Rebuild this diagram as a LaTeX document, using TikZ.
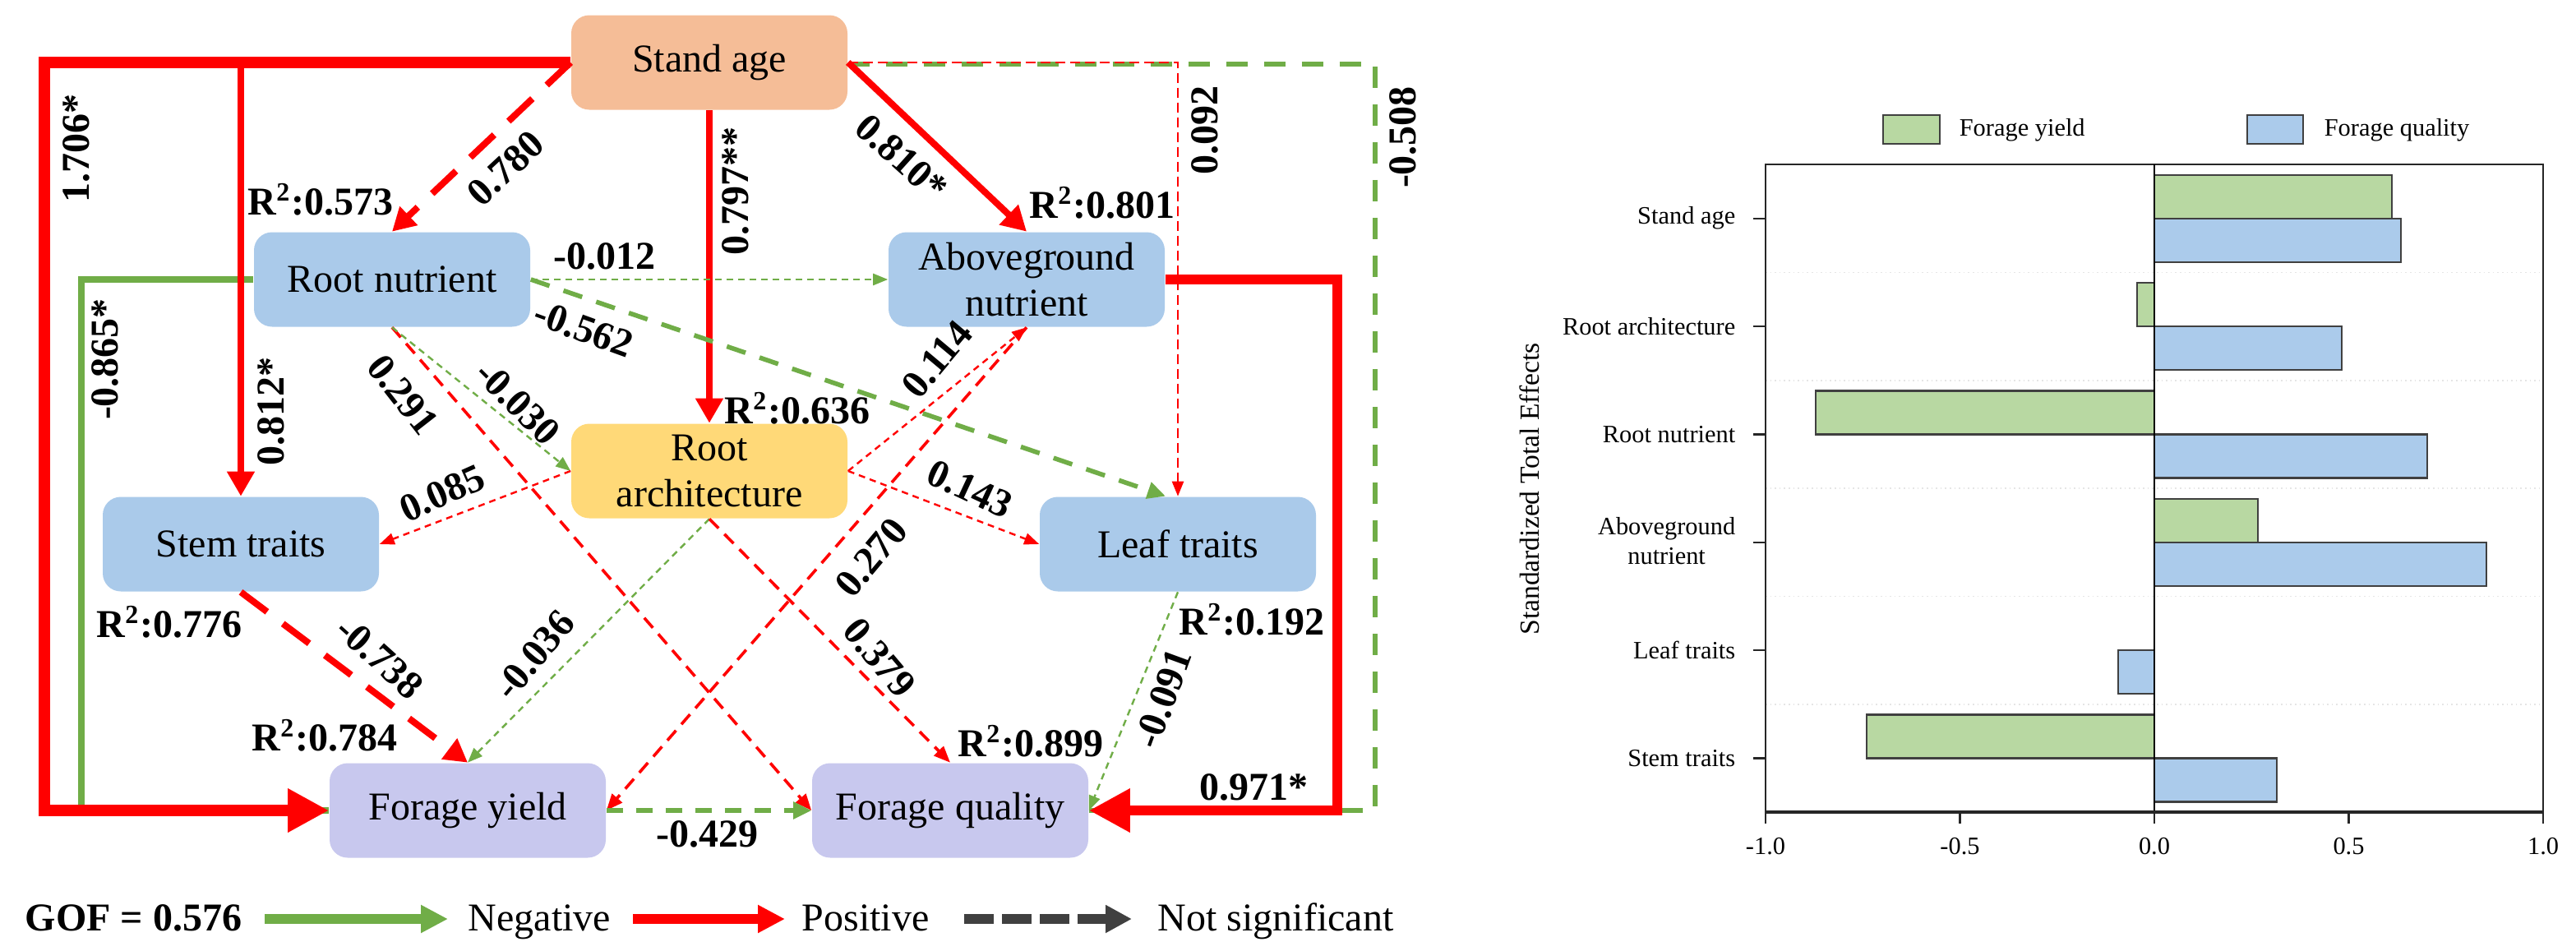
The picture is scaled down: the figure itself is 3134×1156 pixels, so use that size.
\documentclass[tikz,border=0pt]{standalone}
\usepackage{fontspec}
\setmainfont{Liberation Serif}
\usetikzlibrary{arrows.meta,calc}
\definecolor{cpos}{HTML}{FF0000}
\definecolor{cneg}{HTML}{70AD47}
\definecolor{cns}{HTML}{404040}
\definecolor{cSA}{HTML}{F5BD97}
\definecolor{cBL}{HTML}{AACAEA}
\definecolor{cRA}{HTML}{FFD978}
\definecolor{cFO}{HTML}{C8C8EE}
\definecolor{barG}{HTML}{B8D8A2}
\definecolor{barB}{HTML}{ABCBEB}
\begin{document}
\begin{tikzpicture}[x=0.25pt,y=-0.25pt,
  box/.style={rounded corners=5.5pt, minimum width=84pt, minimum height=28.75pt, inner sep=0pt, align=center, font=\fontsize{12}{14}\selectfont},
  lab/.style={font=\fontsize{12}{14}\selectfont\bfseries, inner sep=0pt},
  thickline/.style={line width=3.5pt, line join=miter, -{Triangle[length=12.5pt,width=12.5pt]}},
  medline/.style={line width=2pt, line join=miter, -{Triangle[length=7.5pt,width=8pt]}},
  bigdash/.style={line width=2pt, dash pattern=on 10pt off 6pt, -{Triangle[length=7pt,width=7.5pt]}},
  middash/.style={line width=1.4pt, dash pattern=on 6pt off 4.5pt, -{Triangle[length=5.5pt,width=5pt]}},
  smalldash/.style={line width=0.9pt, dash pattern=on 4pt off 2.5pt, -{Triangle[length=5pt,width=4pt]}},
  dotline/.style={line width=0.6pt, dash pattern=on 2pt off 1.5pt, -{Triangle[length=4.5pt,width=3.5pt]}},
  catlab/.style={font=\fontsize{7.6}{9}\selectfont, inner sep=0pt},
  bar/.style={draw=cns, line width=0.6pt}
]
\useasboundingbox (0,0) rectangle (3134,1156);
\fill[white] (0,0) rectangle (3134,1156);

% ---------------- nodes ----------------
\node[box, fill=cSA] (sa) at (863,76) {Stand age};
\node[box, fill=cBL] (rn) at (477,340) {Root nutrient};
\node[box, fill=cBL] (an) at (1249,340) {Aboveground\\nutrient};
\node[box, fill=cRA] (ra) at (863,573) {Root\\architecture};
\node[box, fill=cBL] (st) at (293,662) {Stem traits};
\node[box, fill=cBL] (lt) at (1433,662) {Leaf traits};
\node[box, fill=cFO] (fy) at (569,986) {Forage yield};
\node[box, fill=cFO] (fq) at (1156,986) {Forage quality};

\coordinate (cL) at (54,986);
\coordinate (cG) at (99,986);
\coordinate (cR) at (1627,986);
\coordinate (cD) at (1673,986);
\coordinate (cDt) at (1673,78);

% ---------------- connectors ----------------
% outer green dashed (-0.508), under the red
\draw[cneg, line width=1.5pt, dash pattern=on 6.5pt off 5pt] (sa.east |- cDt) -- (cDt) -- (cD) -- (fq.east);
% thin red dotted to leaf traits (0.092)
\draw[cpos, line width=0.6pt, dash pattern=on 3pt off 1.5pt, -{Triangle[length=4.5pt,width=3.5pt]}] (sa.east) -| (lt.north);
% green -0.865*
\draw[cneg, line width=2pt, line join=miter] (rn.west) -| (cG) -- (fy.west);
% red 1.706*
\draw[cpos, thickline] (sa.west) -| (cL) -- (fy.west);
% red 0.812*
\draw[cpos, medline] (sa.west) -| (st.north);
% red dashed 0.780
\draw[cpos, bigdash] (sa.west) -- (rn.north);
% red 0.797**
\draw[cpos, medline] (sa.south) -- (ra.north);
% red 0.810*
\draw[cpos, medline] (sa.east) -- (an.north);
% green dotted -0.012
\draw[cneg, dotline] (rn.east) -- (an.west);
% green dashed -0.562
\draw[cneg, middash] (rn.east) -- ($(lt.north)+(-15,0)$);
% red dashed 0.291
\draw[cpos, smalldash] (rn.south) -- (fq.west);
% green dotted -0.030
\draw[cneg, dotline] (rn.south) -- (ra.west);
% red dotted 0.085
\draw[cpos, dotline] (ra.west) -- (st.east);
% red dotted 0.143
\draw[cpos, dotline] (ra.east) -- (lt.west);
% red dotted 0.114
\draw[cpos, dotline] (ra.east) -- (an.south);
% green dotted -0.036
\draw[cneg, dotline] (ra.south) -- (fy.north);
% red dashed 0.379
\draw[cpos, smalldash] (ra.south) -- (fq.north);
% red dashed 0.270
\draw[cpos, smalldash] (an.south) -- (fy.east);
% red 0.971*
\draw[cpos, thickline, line width=3.2pt] (an.east) -| (cR) -- (fq.east);
% green dotted -0.091
\draw[cneg, dotline] (lt.south) -- (fq.east);
% red dashed -0.738
\draw[cpos, bigdash] (st.south) -- (fy.north);
% green dashed -0.429
\draw[cneg, line width=1.3pt, dash pattern=on 5pt off 4pt, -{Triangle[length=5.5pt,width=5pt]}] (fy.east) -- (fq.west);

% ---------------- labels ----------------
\node[lab, rotate=90] (l1706) at (93,180) {1.706*};
\node[lab, rotate=90] (l812) at (330,500) {0.812*};
\node[lab, rotate=90] (l865) at (128,437) {-0.865*};
\node[lab, rotate=43] (l780) at (615,205) {0.780};
\node[lab] (r573) at (390,243) {R\textsuperscript{2}:0.573};
\node[lab, rotate=90] (l797) at (895,232) {0.797**};
\node[lab, rotate=-42] (l810) at (1097,192) {0.810*};
\node[lab] (r801) at (1341,247) {R\textsuperscript{2}:0.801};
\node[lab, rotate=90] (l092) at (1466,158) {0.092};
\node[lab, rotate=90] (l508) at (1707,167) {-0.508};
\node[lab] (l012) at (735,312) {-0.012};
\node[lab, rotate=-20] (l562) at (710,400) {-0.562};
\node[lab, rotate=-52] (l291) at (490,480) {0.291};
\node[lab, rotate=-45] (l030) at (630,490) {-0.030};
\node[lab, rotate=24] (l085) at (538,600) {0.085};
\node[lab, rotate=-25] (l143) at (1180,595) {0.143};
\node[lab] (r636) at (970,497) {R\textsuperscript{2}:0.636};
\node[lab, rotate=50] (l114) at (1140,437) {0.114};
\node[lab, rotate=50] (l270) at (1060,678) {0.270};
\node[lab, rotate=-50] (l379) at (1070,800) {0.379};
\node[lab, rotate=50] (l036) at (650,797) {-0.036};
\node[lab, rotate=-42] (l738) at (462,800) {-0.738};
\node[lab] (r776) at (206,757) {R\textsuperscript{2}:0.776};
\node[lab] (r784) at (395,895) {R\textsuperscript{2}:0.784};
\node[lab] (r899) at (1254,902) {R\textsuperscript{2}:0.899};
\node[lab] (r192) at (1523,754) {R\textsuperscript{2}:0.192};
\node[lab, rotate=70] (l091) at (1415,850) {-0.091};
\node[lab] (l971) at (1525,958) {0.971*};
\node[lab] (l429) at (860,1015) {-0.429};

% ---------------- legend ----------------
\node[lab, anchor=base west] (gof) at (30,1132) {GOF = 0.576};
\coordinate (ng1) at (322,1118); \coordinate (ng2) at (545,1118);
\draw[cneg, line width=3pt, -{Triangle[length=8.25pt,width=8pt]}] (ng1) -- (ng2);
\node[font=\fontsize{12}{14}\selectfont, inner sep=0pt, anchor=base west] (tneg) at (569,1132) {Negative};
\coordinate (ps1) at (770,1118); \coordinate (ps2) at (955,1118);
\draw[cpos, line width=3pt, -{Triangle[length=8.25pt,width=8pt]}] (ps1) -- (ps2);
\node[font=\fontsize{12}{14}\selectfont, inner sep=0pt, anchor=base west] (tpos) at (975,1132) {Positive};
\coordinate (ns1) at (1173,1118); \coordinate (ns2) at (1377,1118);
\draw[cns, line width=3pt, dash pattern=on 9pt off 2.5pt, -{Triangle[length=8pt,width=8pt]}] (ns1) -- (ns2);
\node[font=\fontsize{12}{14}\selectfont, inner sep=0pt, anchor=base west] (tns) at (1408,1132) {Not significant};

% ---------------- bar chart ----------------
% grid
\foreach \g in {331.3,462.7,594,725.3,856.7}
  \draw[gray!20, line width=0.4pt, densely dotted] (2148,\g) -- (3094,\g);
% bars
\draw[bar, fill=barG] (2621,212.7) rectangle (2910,265.7);
\draw[bar, fill=barB] (2621,265.7) rectangle (2921,318.7);
\draw[bar, fill=barG] (2600,344) rectangle (2621,397);
\draw[bar, fill=barB] (2621,397) rectangle (2849,450);
\draw[bar, fill=barG] (2209,475.3) rectangle (2621,528.3);
\draw[bar, fill=barB] (2621,528.3) rectangle (2953,581.3);
\draw[bar, fill=barG] (2621,606.7) rectangle (2747,659.7);
\draw[bar, fill=barB] (2621,659.7) rectangle (3025,712.7);
\draw[bar, fill=barB] (2577,791) rectangle (2621,844);
\draw[bar, fill=barG] (2271,869.3) rectangle (2621,922.3);
\draw[bar, fill=barB] (2621,922.3) rectangle (2770,975.3);
% frame and axes
\draw[black!85, line width=0.5pt] (2148,988) -- (2148,200) -- (3094,200) -- (3094,988);
\draw[black, line width=0.5pt] (2621,200) -- (2621,988);
\draw[black!85, line width=1pt] (2148,988) -- (3094,988);
\foreach \t in {2148,2384.5,2621,2857.5,3094}
  \draw[black!85, line width=0.6pt] (\t,988) -- (\t,1002);
\foreach \c in {265.7,397,528.3,659.7,791,922.3}
  \draw[black!85, line width=0.6pt] (2133,\c) -- (2148,\c);
% category labels
\node[catlab, anchor=east] (k1) at (2112,265.7) {Stand age};
\node[catlab, anchor=east] (k2) at (2112,397) {Root architecture};
\node[catlab, anchor=east] (k3) at (2112,528.3) {Root nutrient};
\node[catlab, anchor=east, align=center] (k4) at (2112,658) {Aboveground\\nutrient};
\node[catlab, anchor=east] (k5) at (2112,791) {Leaf traits};
\node[catlab, anchor=east] (k6) at (2112,922.3) {Stem traits};
% tick labels
\node[catlab] (x1) at (2148,1030) {-1.0};
\node[catlab] (x2) at (2384.5,1030) {-0.5};
\node[catlab] (x3) at (2621,1030) {0.0};
\node[catlab] (x4) at (2857.5,1030) {0.5};
\node[catlab] (x5) at (3094,1030) {1.0};
% axis title
\node[rotate=90, font=\fontsize{8.4}{10}\selectfont, inner sep=0pt] (ytl) at (1861,595) {Standardized Total Effects};
% legend
\draw[bar, fill=barG] (2291,140) rectangle (2360,175);
\node[catlab, anchor=west] (lg1) at (2383,158) {Forage yield};
\draw[bar, fill=barB] (2734,140) rectangle (2802,175);
\node[catlab, anchor=west] (lg2) at (2827,158) {Forage quality};
\end{tikzpicture}
\end{document}
